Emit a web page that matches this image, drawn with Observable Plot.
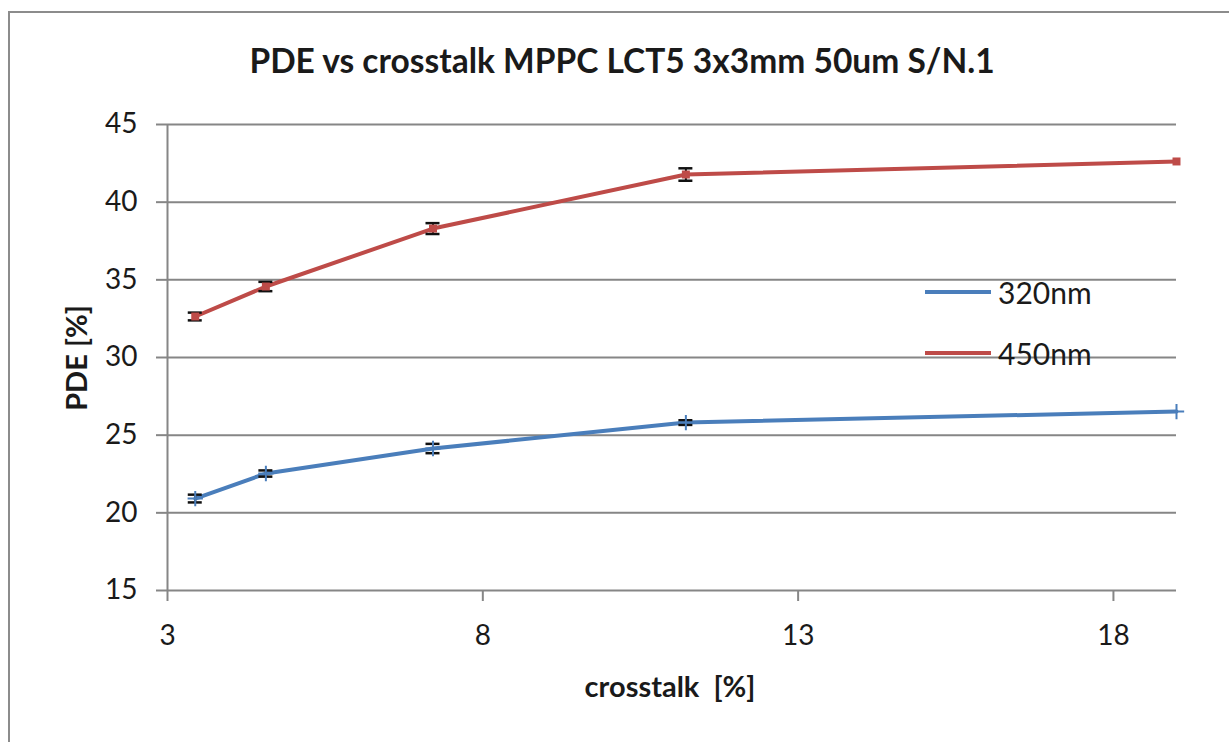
<!DOCTYPE html>
<html>
<head>
<meta charset="utf-8">
<script src="https://cdn.jsdelivr.net/npm/d3@7"></script>
<script src="https://cdn.jsdelivr.net/npm/@observablehq/plot@0.6"></script>
<style>
  html, body { margin: 0; padding: 0; background: #fff; }
  #wrap { position: relative; width: 1229px; height: 742px; overflow: hidden; font-family: Lato, "Open Sans", sans-serif; color: #1a1a1a; }
  #frame { position: absolute; left: 8px; top: 11px; width: 1240px; height: 760px; border: 2px solid #8c8c8c; box-sizing: border-box; }
  #chart { position: absolute; left: 0; top: 0; }
  .title { position: absolute; left: 0; width: 1244px; top: 40px; text-align: center; font-weight: bold; font-size: 33.5px; line-height: 40px; }
  .xlabel { position: absolute; left: 0; width: 1340px; top: 668px; text-align: center; font-weight: bold; font-size: 29px; line-height: 36px; }
  .ylabel { position: absolute; left: 75px; top: 358px; transform: translate(-50%, -50%) rotate(-90deg); font-weight: bold; font-size: 29px; white-space: nowrap; }
  .legend { position: absolute; left: 925px; font-size: 30px; line-height: 36px; display: flex; align-items: center; }
  .legend .sw { width: 66px; height: 4px; margin-right: 7px; position: relative; }
</style>
</head>
<body>
<div id="wrap">
  <div id="frame"></div>
  <div id="chart"></div>
  <div class="title">PDE vs crosstalk MPPC LCT5 3x3mm 50um S/N.1</div>
  <div class="ylabel">PDE [%]</div>
  <div class="xlabel">crosstalk&nbsp; [%]</div>
  <div class="legend" style="top:274px"><span class="sw" style="background:#4a7ebb"></span><span>320nm</span></div>
  <div class="legend" style="top:335px"><span class="sw" style="background:#be4b48"></span><span>450nm</span></div>
</div>
<script>
const crosstalk = [3.44, 4.56, 7.21, 11.22, 19.0];
const pde320 = [20.92, 22.53, 24.14, 25.81, 26.52];
const err320 = [0.25, 0.2, 0.3, 0.15, 0];
const pde450 = [32.64, 34.57, 38.3, 41.78, 42.62];
const err450 = [0.25, 0.3, 0.35, 0.4, 0];
const xTicks = [3, 8, 13, 18];
const yTicks = [15, 20, 25, 30, 35, 40, 45];
const seriesNames = ["320nm", "450nm"];
const colors = ["#4a7ebb", "#be4b48"];

const rows = [];
crosstalk.forEach((x, i) => {
  rows.push({series: seriesNames[0], x, y: pde320[i], e: err320[i]});
  rows.push({series: seriesNames[1], x, y: pde450[i], e: err450[i]});
});
const withErr = rows.filter(d => d.e > 0);
const r320 = rows.filter(d => d.series === "320nm");
const r450 = rows.filter(d => d.series === "450nm");

const plot = Plot.plot({
  width: 1229,
  height: 742,
  marginLeft: 167,
  marginRight: 53,
  marginTop: 124,
  marginBottom: 152,
  style: {fontFamily: "Lato, 'Open Sans', sans-serif", fontSize: "28px", color: "#1a1a1a", background: "transparent"},
  x: {domain: [3, 19]},
  y: {domain: [15, 45]},
  color: {domain: seriesNames, range: colors},
  marks: [
    Plot.gridY(yTicks.filter(t => t > 15), {stroke: "#868686", strokeOpacity: 1, strokeWidth: 2}),
    Plot.ruleY([15], {stroke: "#868686", strokeWidth: 2}),
    Plot.ruleX([3], {stroke: "#868686", strokeWidth: 2}),
    Plot.axisY(yTicks, {tickSize: 11, tickPadding: 19, stroke: "#868686", strokeWidth: 2, label: null, fontSize: 28}),
    Plot.axisX(xTicks, {tickSize: 11, tickPadding: 24, stroke: "#868686", strokeWidth: 2, label: null, fontSize: 28}),
    Plot.line(rows, {x: "x", y: "y", z: "series", stroke: "series", strokeWidth: 4}),
    Plot.ruleX(withErr, {x: "x", y1: d => d.y - d.e, y2: d => d.y + d.e, stroke: "#111", strokeWidth: 2}),
    Plot.ruleY(withErr, {y: d => d.y - d.e, x1: "x", x2: "x", insetLeft: -7, insetRight: -7, stroke: "#111", strokeWidth: 2.5}),
    Plot.ruleY(withErr, {y: d => d.y + d.e, x1: "x", x2: "x", insetLeft: -7, insetRight: -7, stroke: "#111", strokeWidth: 2.5}),
    Plot.dot(r450, {x: "x", y: "y", symbol: "square", r: 4.5, fill: colors[1], stroke: "none"}),
    Plot.dot(r320, {x: "x", y: "y", symbol: "plus", r: 5, stroke: colors[0], strokeWidth: 2})
  ]
});
document.getElementById("chart").appendChild(plot);
</script>
</body>
</html>
